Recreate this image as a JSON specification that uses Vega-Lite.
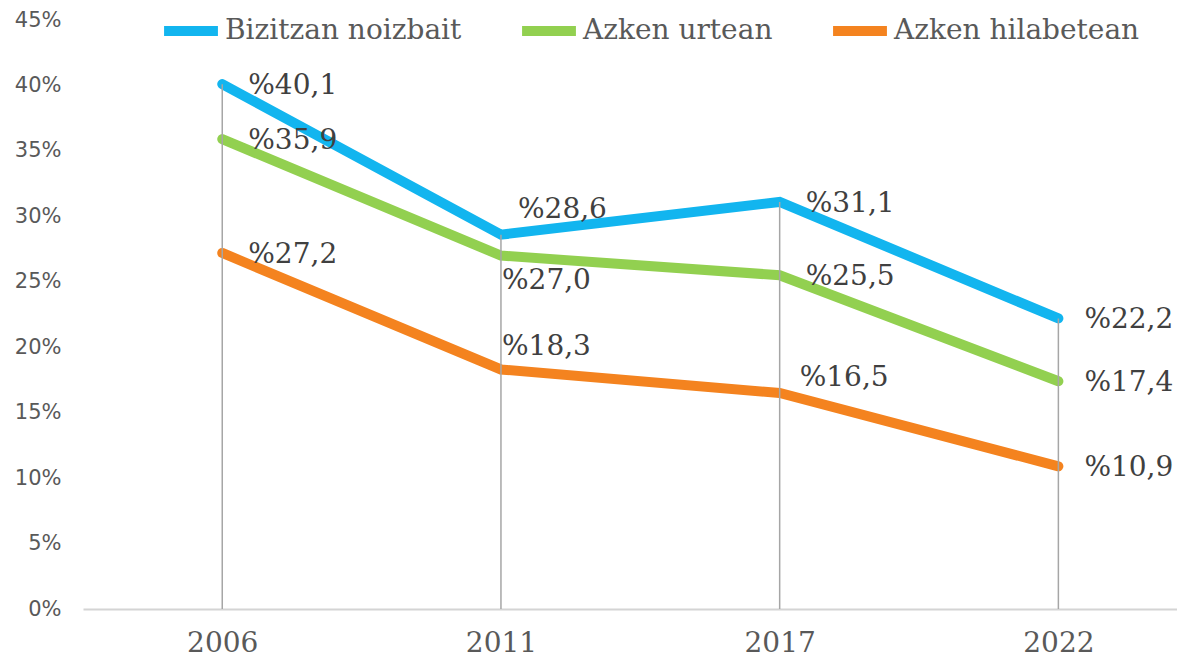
{
  "$schema": "https://vega.github.io/schema/vega-lite/v6.json",
  "width": 1094,
  "height": 589,
  "autosize": "none",
  "padding": {"left": 83, "top": 20, "right": 0, "bottom": 53},
  "background": "white",
  "config": {
    "view": {"stroke": null},
    "font": "DejaVu Serif"
  },
  "data": {
    "values": [
      {"year": "2006", "series": "Bizitzan noizbait", "v": 40.1},
      {"year": "2011", "series": "Bizitzan noizbait", "v": 28.6},
      {"year": "2017", "series": "Bizitzan noizbait", "v": 31.1},
      {"year": "2022", "series": "Bizitzan noizbait", "v": 22.2},
      {"year": "2006", "series": "Azken urtean", "v": 35.9},
      {"year": "2011", "series": "Azken urtean", "v": 27.0},
      {"year": "2017", "series": "Azken urtean", "v": 25.5},
      {"year": "2022", "series": "Azken urtean", "v": 17.4},
      {"year": "2006", "series": "Azken hilabetean", "v": 27.2},
      {"year": "2011", "series": "Azken hilabetean", "v": 18.3},
      {"year": "2017", "series": "Azken hilabetean", "v": 16.5},
      {"year": "2022", "series": "Azken hilabetean", "v": 10.9}
    ]
  },
  "transform": [
    {"calculate": "'%' + replace(format(datum.v, '.1f'), '.', ',')", "as": "lbl"}
  ],
  "encoding": {
    "x": {
      "field": "year", "type": "ordinal",
      "scale": {"type": "point", "padding": 0.4626, "align": 0.54},
      "axis": {
        "title": null, "labelAngle": 0, "ticks": false,
        "domainColor": "#d4d4d4", "domainWidth": 2,
        "labelFont": "DejaVu Serif", "labelFontSize": 28, "labelColor": "#595959",
        "labelPadding": 20
      }
    },
    "y": {
      "field": "v", "type": "quantitative",
      "scale": {"domain": [0, 45], "nice": false, "zero": true},
      "axis": {
        "title": null, "values": [0, 5, 10, 15, 20, 25, 30, 35, 40, 45],
        "labelExpr": "datum.value + '%'",
        "grid": false, "ticks": false, "domain": false,
        "labelFont": "DejaVu Sans", "labelFontSize": 21, "labelColor": "#595959",
        "labelAlign": "right", "labelPadding": 22
      }
    }
  },
  "layer": [
    {
      "mark": {"type": "line", "strokeWidth": 10, "strokeCap": "round"},
      "encoding": {
        "color": {
          "field": "series", "type": "nominal",
          "sort": ["Bizitzan noizbait", "Azken urtean", "Azken hilabetean"],
          "scale": {
            "domain": ["Bizitzan noizbait", "Azken urtean", "Azken hilabetean"],
            "range": ["#12b5ef", "#92d050", "#f4831f"]
          },
          "legend": {
            "title": null, "orient": "none", "direction": "horizontal",
            "legendX": 76, "legendY": -21,
            "symbolType": "stroke", "symbolSize": 2900, "symbolStrokeWidth": 10,
            "labelFont": "DejaVu Serif", "labelFontSize": 28, "labelColor": "#595959",
            "labelOffset": 2, "columnPadding": 40, "labelLimit": 400
          }
        }
      }
    },
    {
      "transform": [{"filter": "datum.series == 'Bizitzan noizbait'"}],
      "mark": {"type": "rule", "color": "#a6a6a6", "strokeWidth": 1.5},
      "encoding": {
        "y": {"datum": 0, "type": "quantitative"},
        "y2": {"field": "v"}
      }
    },
    {
      "transform": [{"filter": "datum.year != '2011' && !(datum.year == '2017' && datum.series == 'Azken hilabetean')"}],
      "mark": {"type": "text", "align": "left", "baseline": "middle", "dx": 26, "dy": 2, "fontSize": 28, "color": "#404040", "font": "DejaVu Serif"},
      "encoding": {"text": {"field": "lbl"}}
    },
    {
      "transform": [{"filter": "datum.year == '2011' && datum.series == 'Bizitzan noizbait'"}],
      "mark": {"type": "text", "align": "left", "baseline": "middle", "dx": 17, "dy": -25, "fontSize": 28, "color": "#404040", "font": "DejaVu Serif"},
      "encoding": {"text": {"field": "lbl"}}
    },
    {
      "transform": [{"filter": "datum.year == '2011' && datum.series == 'Azken urtean'"}],
      "mark": {"type": "text", "align": "left", "baseline": "middle", "dx": 1, "dy": 25, "fontSize": 28, "color": "#404040", "font": "DejaVu Serif"},
      "encoding": {"text": {"field": "lbl"}}
    },
    {
      "transform": [{"filter": "datum.year == '2011' && datum.series == 'Azken hilabetean'"}],
      "mark": {"type": "text", "align": "left", "baseline": "middle", "dx": 1, "dy": -22, "fontSize": 28, "color": "#404040", "font": "DejaVu Serif"},
      "encoding": {"text": {"field": "lbl"}}
    },
    {
      "transform": [{"filter": "datum.year == '2017' && datum.series == 'Azken hilabetean'"}],
      "mark": {"type": "text", "align": "left", "baseline": "middle", "dx": 20, "dy": -15, "fontSize": 28, "color": "#404040", "font": "DejaVu Serif"},
      "encoding": {"text": {"field": "lbl"}}
    }
  ]
}
